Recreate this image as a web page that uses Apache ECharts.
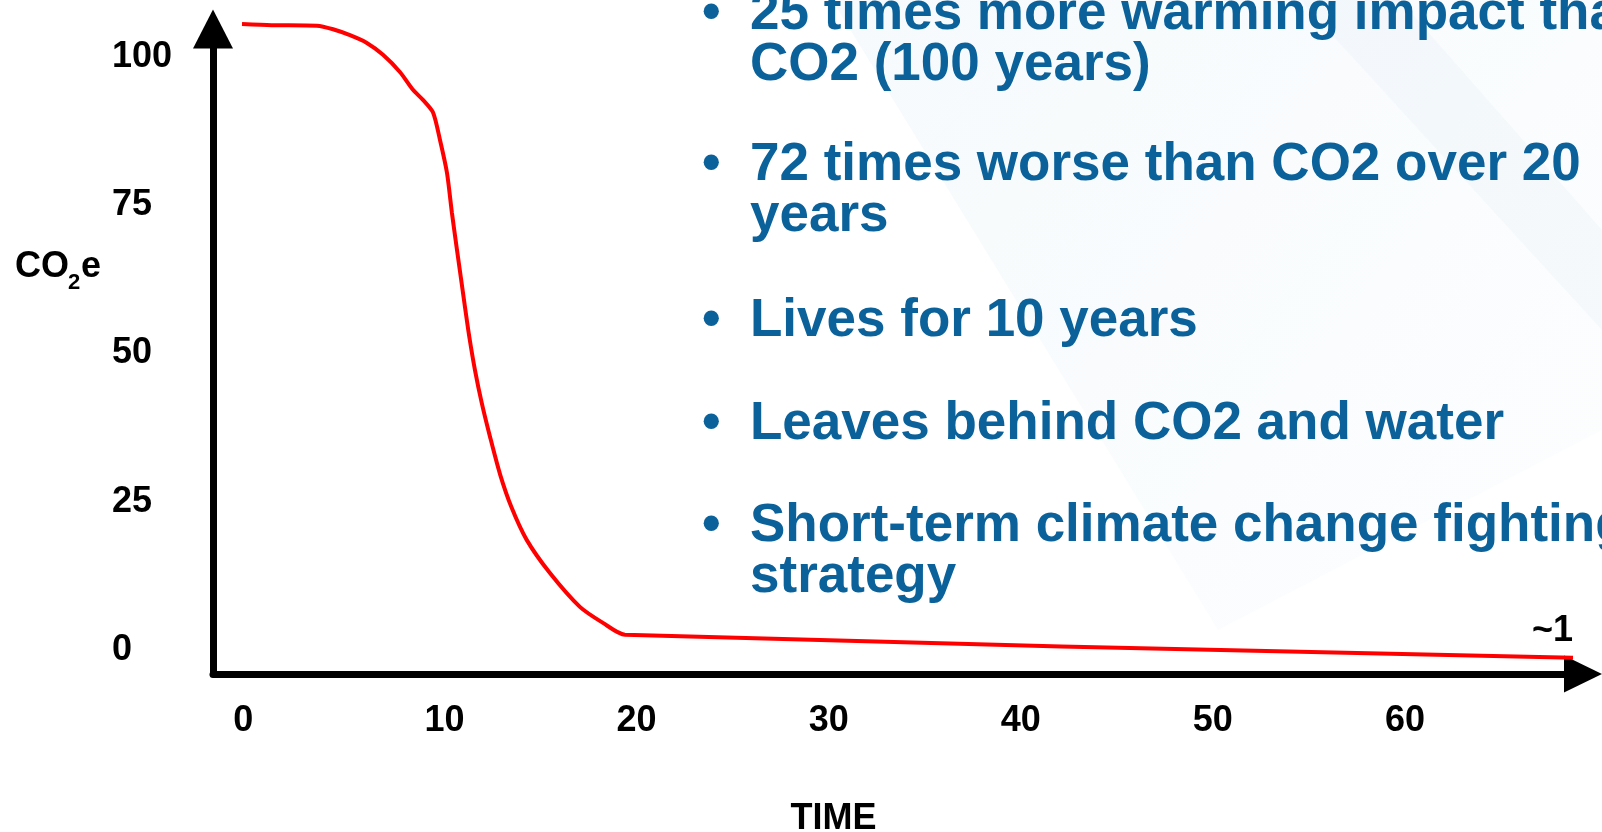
<!DOCTYPE html>
<html>
<head>
<meta charset="utf-8">
<script src="https://cdn.jsdelivr.net/npm/echarts@6/dist/echarts.min.js"></script>
<style>
  html, body { margin: 0; padding: 0; background: #fff; }
  #chart { width: 1602px; height: 832px; }
</style>
</head>
<body>
<div id="chart"></div>
<script>
// decay curve (time, CO2e)
var timeVals = [-0.54, 1.0, 3.36, 4.2, 5.08, 5.96, 6.8, 7.68, 8.36, 8.88, 9.4, 9.77, 10.13, 10.39,
  10.63, 11.04, 11.29, 11.59, 11.94, 12.37, 12.89, 13.5, 14.28, 15.49, 17.05, 18.25, 19.4, 68.75];
var co2eVals = [104.9, 104.7, 104.6, 104.0, 103.0, 101.7, 99.7, 96.8, 93.8, 92.1, 90.0, 85.3, 79.8, 73.0,
  67.3, 57.8, 52.2, 46.5, 41.0, 35.3, 29.0, 23.3, 17.9, 12.3, 6.6, 3.9, 1.9, -2.0];
var xTicks = [0, 10, 20, 30, 40, 50, 60];
var yTicks = [0, 25, 50, 75, 100];
var endNote = '~1';
var bulletText = [
  '25 times more warming impact than\nCO2 (100 years)',
  '72 times worse than CO2 over 20\nyears',
  'Lives for 10 years',
  'Leaves behind CO2 and water',
  'Short-term climate change fighting\nstrategy'
];

// layout of the bullet block (top of each paragraph box)
var bulletTops = [-11, 140, 296, 399, 501];
var FONT = '"Liberation Sans", Arial, sans-serif';
var BLUE = '#0b629b';

var points = timeVals.map(function (t, i) { return [t, co2eVals[i]]; });

var graphics = [
  {
    type: 'polygon', z: -10, silent: true,
    shape: { points: [[832, 0], [1602, 0], [1602, 430], [1218, 630]] },
    style: {
      fill: new echarts.graphic.LinearGradient(0, 0, 1, 1, [
        { offset: 0, color: 'rgba(214,232,242,0.22)' },
        { offset: 1, color: 'rgba(230,241,247,0.12)' }
      ])
    }
  },
  {
    type: 'polygon', z: -9, silent: true,
    shape: { points: [[1300, 0], [1400, 0], [1602, 230], [1602, 330]] },
    style: { fill: 'rgba(205,226,238,0.12)' }
  },
  { type: 'text', x: 15, y: 267, style: { text: 'CO', font: 'bold 36px ' + FONT, fill: '#000', verticalAlign: 'middle' } },
  { type: 'text', x: 68, y: 283, style: { text: '2', font: 'bold 22px ' + FONT, fill: '#000', verticalAlign: 'middle' } },
  { type: 'text', x: 81, y: 267, style: { text: 'e', font: 'bold 36px ' + FONT, fill: '#000', verticalAlign: 'middle' } }
];

bulletText.forEach(function (txt, i) {
  graphics.push({
    type: 'text', x: 702, y: bulletTops[i], z: 5,
    style: { text: '\u2022', font: 'bold 53px ' + FONT, fill: BLUE, lineHeight: 51, verticalAlign: 'top' }
  });
  graphics.push({
    type: 'text', x: 750, y: bulletTops[i], z: 5,
    style: { text: txt, font: 'bold 53px ' + FONT, fill: BLUE, lineHeight: 51, verticalAlign: 'top' }
  });
});

var labelFont = { fontSize: 36, fontWeight: 'bold', color: '#000', fontFamily: FONT };

var chart = echarts.init(document.getElementById('chart'));
chart.setOption({
  animation: false,
  backgroundColor: '#fff',
  textStyle: { fontFamily: FONT },
  grid: { left: 213, right: 19, top: 29, bottom: 158, containLabel: false, outerBoundsMode: 'none' },
  xAxis: {
    type: 'value',
    min: -2.05,
    max: 69.27,
    name: 'TIME',
    nameLocation: 'middle',
    nameGap: 127,
    nameTextStyle: { fontSize: 36, fontWeight: 'bold', color: '#000', padding: [0, 129, 0, 0] },
    axisLine: {
      show: true,
      onZero: false,
      symbol: ['none', 'triangle'],
      symbolSize: [37, 38],
      lineStyle: { color: '#000', width: 7 }
    },
    axisTick: { show: false },
    splitLine: { show: false },
    axisLabel: {
      customValues: xTicks,
      margin: 29,
      // the slide's "0" sits a little left of its tick
      formatter: function (val) { return val === 0 ? '{z|0}' : '{n|' + val + '}'; },
      rich: {
        n: labelFont,
        z: Object.assign({ padding: [0, 18, 0, 0] }, labelFont)
      }
    }
  },
  yAxis: {
    type: 'value',
    min: -4.72,
    max: 104.05,
    axisLine: {
      show: true,
      onZero: false,
      symbol: ['none', 'triangle'],
      symbolSize: [40, 39],
      lineStyle: { color: '#000', width: 7 }
    },
    axisTick: { show: false },
    splitLine: { show: false },
    axisLabel: {
      customValues: yTicks,
      align: 'left',
      margin: 101,
      formatter: '{v|{value}}',
      rich: {
        v: Object.assign({ padding: [8, 0, 0, 0] }, labelFont)
      }
    }
  },
  series: [{
    type: 'line',
    data: points,
    showSymbol: false,
    clip: false,
    smooth: 0.25,
    lineStyle: { color: '#ff0000', width: 4 },
    endLabel: {
      show: true,
      formatter: endNote,
      distance: 0,
      offset: [-41, -27],
      fontSize: 36,
      fontWeight: 'bold',
      color: '#000'
    }
  }],
  graphic: graphics
});
</script>
</body>
</html>
